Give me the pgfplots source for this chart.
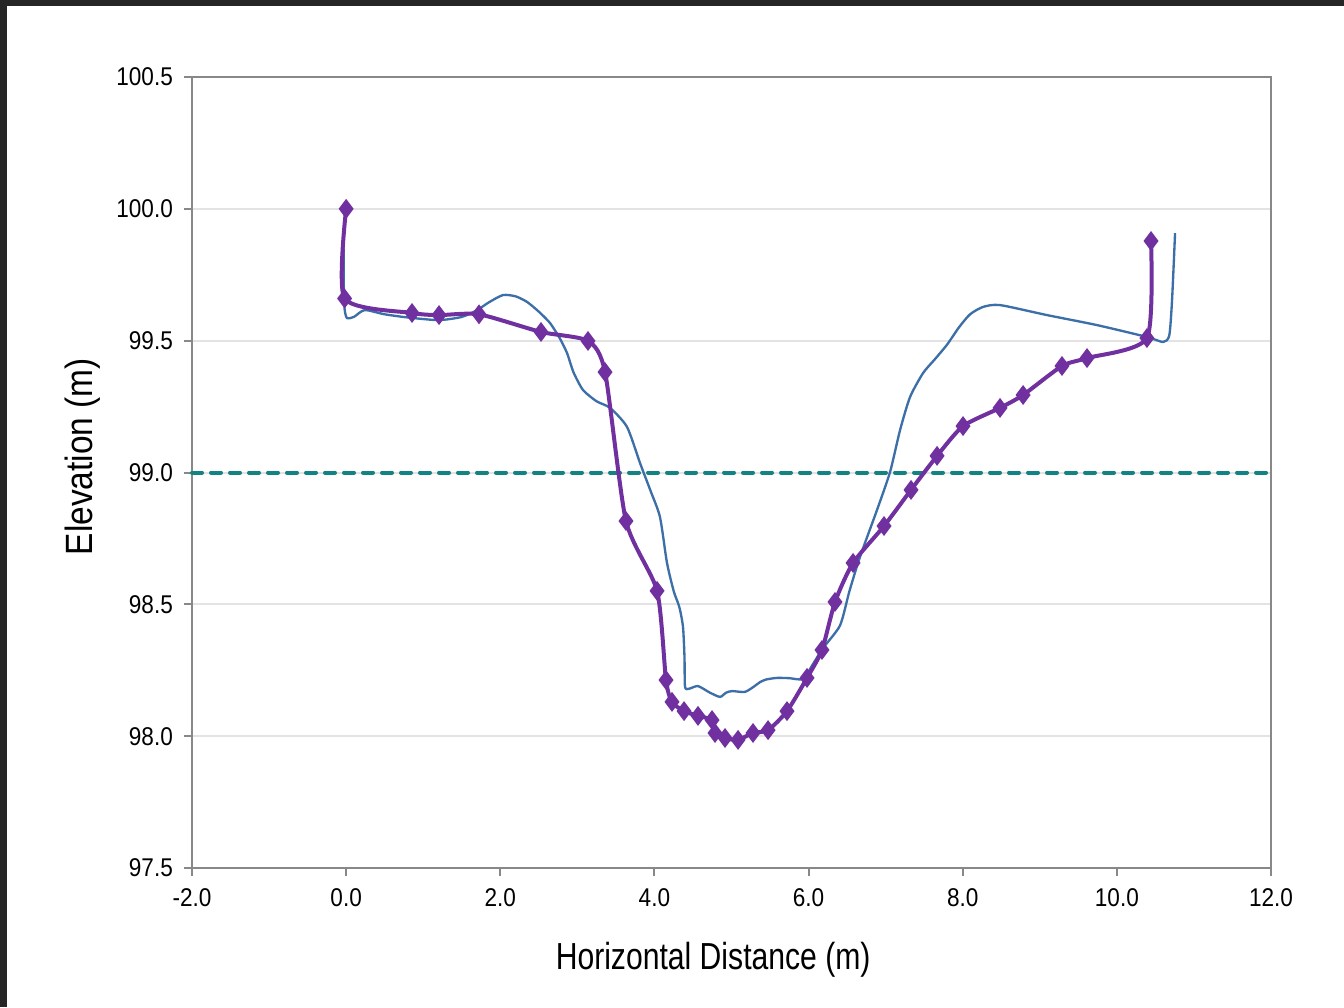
\documentclass[border=0pt]{standalone}
\usepackage{fontspec}
\setmainfont{Liberation Sans}[FakeStretch=0.88]
\newfontfamily\xlabfont{Liberation Sans}[FakeStretch=0.8]
\usepackage{pgfplots}
\pgfplotsset{compat=1.18}

\definecolor{profpurple}{HTML}{7030A0}
\definecolor{profblue}{HTML}{3C6FA8}
\definecolor{waterteal}{HTML}{138282}
\definecolor{framegray}{HTML}{888888}
\definecolor{gridgray}{HTML}{E3E3E3}
\definecolor{darkedge}{HTML}{262626}

\begin{document}
\begin{tikzpicture}
% screenshot background: dark edge top and left, white page
\fill[darkedge] (-57.6pt,-41.7pt) rectangle (345.6pt,260.4pt);
\fill[white] (-55.5pt,-41.7pt) rectangle (345.6pt,258.6pt);

\begin{axis}[
    width=323.7pt, height=237.3pt,
    scale only axis,
    xmin=-2, xmax=12,
    ymin=97.5, ymax=100.5,
    xtick={-2,0,2,4,6,8,10,12},
    ytick={97.5,98,98.5,99,99.5,100,100.5},
    xtick pos=left, ytick pos=left,
    tick align=outside,
    major tick length=2.4pt,
    tick style={framegray, line width=0.6pt},
    axis line style={framegray, line width=0.6pt},
    ymajorgrids,
    grid style={gridgray, line width=0.6pt},
    /pgf/number format/assume math mode=true,
    /pgf/number format/.cd, fixed, fixed zerofill, precision=1, /pgfplots/.cd,
    ticklabel style={font=\fontsize{7.7}{8.5}\selectfont},
    xticklabel style={yshift=-0.2pt},
    yticklabel style={xshift=0.2pt},
    xlabel={Horizontal Distance (m)},
    ylabel={Elevation (m)},
    xlabel style={font=\xlabfont\fontsize{11.3}{13}\selectfont,
        at={(axis description cs:0.483,-0.116)}, anchor=center},
    ylabel style={font=\fontsize{11.4}{13}\selectfont,
        at={(axis description cs:-0.101,0.52)}, anchor=center},
    clip=false,
]

% design water level at 99.0 m
\addplot[waterteal, line width=1.2pt, line cap=round, dash pattern=on 3pt off 2.7pt] coordinates {
    (-2,99.0) (12,99.0)
};

% surveyed profile (blue, no markers)
\addplot[profblue, line width=0.7pt, smooth, tension=0.4] coordinates {
    (-0.03,99.85) (-0.03,99.70) (-0.02,99.62) (0.01,99.586) (0.10,99.59)
    (0.24,99.616) (0.50,99.60) (0.80,99.588) (1.20,99.578) (1.50,99.59)
    (1.70,99.616) (1.85,99.645) (2.035,99.673) (2.20,99.668) (2.347,99.647)
    (2.50,99.61) (2.645,99.567) (2.77,99.51) (2.866,99.453) (2.95,99.38)
    (3.073,99.313) (3.25,99.27) (3.424,99.245) (3.644,99.173) (3.813,99.036)
    (3.95,98.93) (4.072,98.831) (4.163,98.657) (4.25,98.55) (4.306,98.505)
    (4.332,98.479) (4.371,98.414) (4.39,98.30) (4.397,98.187) (4.45,98.18)
    (4.565,98.190) (4.72,98.165) (4.851,98.149) (4.93,98.165) (5.007,98.171)
    (5.175,98.168) (5.30,98.19) (5.370,98.205) (5.45,98.215) (5.591,98.221)
    (5.75,98.22) (5.928,98.217) (6.05,98.27) (6.187,98.334) (6.408,98.42)
    (6.53,98.55) (6.667,98.68) (6.888,98.858) (7.057,99.002) (7.187,99.161)
    (7.316,99.286) (7.485,99.377) (7.64,99.43) (7.797,99.485) (7.95,99.55)
    (8.095,99.60) (8.264,99.628) (8.484,99.635) (9.094,99.597) (9.743,99.559)
    (10.39,99.514) (10.60,99.495) (10.68,99.52) (10.716,99.654) (10.755,99.908)
};

% design profile (purple, diamond markers)
\addplot[profpurple, line width=1.2pt, smooth, tension=0.4,
    mark=diamond*, mark size=2pt, mark options={solid, fill=profpurple}] coordinates {
    (0.00,100.00) (-0.02,99.66) (0.855,99.605) (1.205,99.597) (1.724,99.60)
    (2.528,99.533) (3.138,99.499) (3.359,99.381) (3.631,98.816) (4.034,98.551)
    (4.15,98.213) (4.228,98.130) (4.384,98.095) (4.565,98.077) (4.747,98.061)
    (4.786,98.012) (4.916,97.993) (5.085,97.986) (5.279,98.012) (5.474,98.023)
    (5.72,98.095) (5.98,98.221) (6.174,98.327) (6.343,98.509) (6.577,98.657)
    (6.979,98.797) (7.329,98.934) (7.667,99.063) (8.004,99.176) (8.484,99.245)
    (8.783,99.294) (9.288,99.404) (9.613,99.434) (10.39,99.510) (10.443,99.878)
};

\end{axis}
\end{tikzpicture}
\end{document}
